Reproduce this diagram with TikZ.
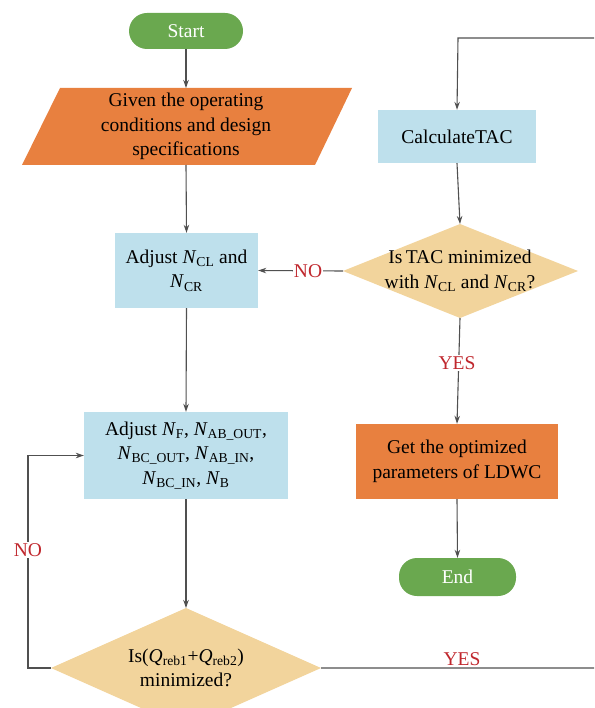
\documentclass[tikz,border=0pt]{standalone}
\usepackage{fontspec}
\setmainfont{Liberation Serif}
\usetikzlibrary{arrows.meta,calc}
\definecolor{termgreen}{HTML}{6AA84F}
\definecolor{ioorange}{HTML}{E8803F}
\definecolor{procblue}{HTML}{BEE0EC}
\definecolor{dectan}{HTML}{F2D49C}
\definecolor{labred}{HTML}{C0272D}
\definecolor{linegray}{HTML}{505050}
\newcommand{\Nsub}[1]{\textit{N}\textsubscript{#1}}
\begin{document}
\begin{tikzpicture}[x=1pt,y=-1pt,
  every node/.style={font=\fontsize{19.5}{24.5}\selectfont},
  term/.style={fill=termgreen,text=white,rounded corners=18pt,minimum width=114pt,minimum height=36pt,inner sep=0pt},
  proc/.style={fill=procblue,text=black,minimum height=75pt,inner sep=0pt,align=center},
  dectext/.style={inner sep=0pt,align=center},
  conn/.style={draw=linegray,line width=1.1pt,-{Stealth[length=8pt,width=5.5pt]}},
  lab/.style={fill=white,text=labred,inner sep=1pt}
]
\useasboundingbox (0,0) rectangle (594,708);
\clip (0,0) rectangle (594,708);
% start
\node[term] (start) at (186,31) {Start};
% parallelogram
\fill[ioorange] (60,88) -- (352,88) -- (315,165) -- (22,165) -- cycle;
\node[inner sep=0pt,minimum width=200pt,minimum height=77pt,align=center] (given) at (186,126.5) {Given the operating\\conditions and design\\specifications};
% boxes
\node[proc,minimum width=143pt] (adj1) at (186.5,270.5) {Adjust \Nsub{CL} and\\\Nsub{CR}};
\node[proc,minimum width=204pt,minimum height=87pt] (adj2) at (186,455.5) {Adjust \Nsub{F}, \Nsub{AB\_OUT},\\\Nsub{BC\_OUT}, \Nsub{AB\_IN},\\\Nsub{BC\_IN}, \Nsub{B}};
\node[proc,minimum width=158pt,minimum height=53pt] (calc) at (457,136.5) {CalculateTAC};
\node[proc,fill=ioorange,minimum width=202pt] (opt) at (457,461.5) {Get the optimized\\parameters of LDWC};
\node[term,minimum width=117pt,minimum height=38pt] (end) at (457.5,577) {End};
% decision 1
\coordinate (d1n) at (460,224);
\coordinate (d1s) at (460,318);
\coordinate (d1w) at (343,271);
\coordinate (d1e) at (578,271);
\fill[dectan] (d1n) -- (d1e) -- (d1s) -- (d1w) -- cycle;
\node[dectext] (d1) at (460,271) {Is\,TAC minimized\\with \Nsub{CL} and \Nsub{CR}?};
% decision 2
\coordinate (d2n) at (186,608);
\coordinate (d2s) at (186,728);
\coordinate (d2w) at (51,668);
\coordinate (d2e) at (321,668);
\fill[dectan] (d2n) -- (d2e) -- (d2s) -- (d2w) -- cycle;
\node[dectext] (d2) at (186,668) {Is(\textit{Q}\textsubscript{reb1}+\textit{Q}\textsubscript{reb2})\\minimized?};
% helper coordinates
\coordinate (loopx) at (28,668);
\coordinate (rightx) at (615,668);
\coordinate (topy) at (615,38);
% connectors
\draw[conn] (start.south) -- (186,88);
\draw[conn] (186,165) -- (adj1.north);
\draw[conn] (adj1.south) -- (adj2.north);
\draw[conn] (adj2.south) -- (d2n);
\draw[conn] (d2w) -- (loopx) |- (adj2.west);
\node[lab] (no2) at (28,550) {NO};
\draw[conn] (d2e) -- (rightx) -- (topy) -- (458,38) -- (calc.north);
\node[lab] (yes2) at (462,659) {YES};
\draw[conn] (calc.south) -- (d1n);
\draw[conn] (d1w) -- (adj1.east);
\node[lab] (no1) at (308,271) {NO};
\draw[conn] (d1s) -- (opt.north);
\node[lab] (yes1) at (457,363) {YES};
\draw[conn] (opt.south) -- (end.north);
\end{tikzpicture}
\end{document}
